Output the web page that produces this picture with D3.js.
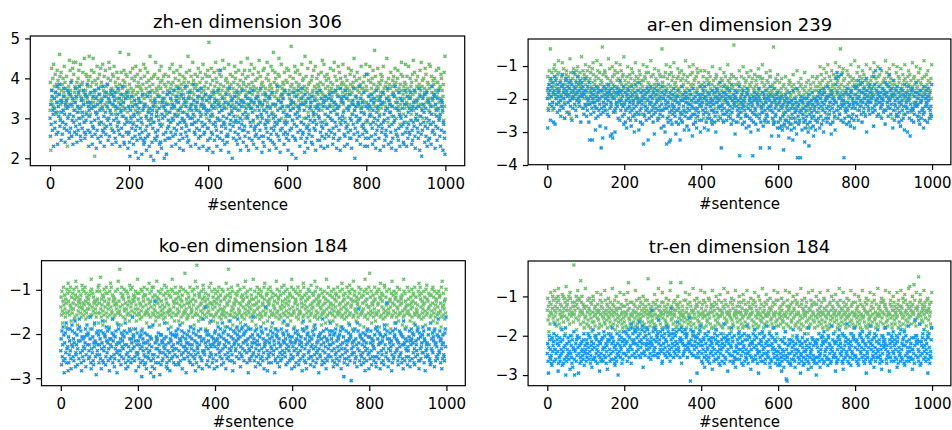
<!DOCTYPE html>
<html>
<head>
<meta charset="utf-8">
<script src="https://cdn.jsdelivr.net/npm/d3@7"></script>
<style>
body { margin: 0; background: #fff; }
svg { display: block; }
text { font-family: "DejaVu Sans", sans-serif; fill: #000; }
</style>
</head>
<body>
<svg id="fig" width="952" height="430"></svg>
<script>
// values, one char per sentence (value = lo + index*step)
var CODE = "0123456789abcdefghijklmnopqrstuvwxyzABCDEFGHIJKLMNOPQRSTUVWXYZ";
function unpack(s, lo, step) {
    return s.replace(/\s/g, "").split("").map(function(c) {
        return +(lo + CODE.indexOf(c) * step).toFixed(3);
    });
}

var xTicks = [0, 200, 400, 600, 800, 1000];

// zh-en dimension 306
var zhTicks = [2, 3, 4, 5];
var zhGreen = unpack(`
qE6vLAtGsN wCrIzoDxKu FpBySHmtJA vDkGqzMxEs BuHr8wnCyP tKAxdFsLvO IqzCuOwlEB rGyKpAxNDm sDEJvtzQkx AIpHwCuFnR
yHoCtKrEwQ uJz3FsADxM pGvBkIyrLC EwsNqAjHzt KxCmuDrGyO vLpFzhBtIA HsMxoEqCwJ zkGuArDTyt JvnBsFxKqE CyIwlHpAzS
rDwJnBuGzL xAkFtHqMyC sIzEovCpKB GuAxjDrNwH tLyBmEsJzq FpCRvxlGAu DkHtzIwOsB qAyGnCuKxE BMsFvjzHrD wIuCp4oAyE
HtzLpBkDvN yEsJrAnGxC uKqCzoFwIB MxDsAlHtyE pGBvjJuCzR EqxKmAsHwD zOtFyBnIrC kDuHwLqAxE JsBzoGvNtA xCrIyEmHpK
BxYuHkDqLz tFnAyJwCsO GrEmzKvBuI yDlHqAxPtC sLwjFzGrBE AuNyCoIxDq vHtBkEzMsG JrAxnDwKyC qFzOuBlIvE DsKAmGyCtQ
zHoDsKwBuN rEyIkCtLAq FwBxGmzJvP tAHunDsEyK CqLzjBxGrO uIwFAlCsDM yBpKtToExJ sGzDwAkIvQ HrCxuNmByE wDAJqzlFsL
EsyKnAwHqC WuDzlGrBxM tJoEAsKyCv DqIwBkzNuF xGmCtRAvHs BzLpDjyEwO uFqHzAnKxC sMwBoGvDyI CrAkEtJzqP yDuNxHlBsF
vIrCnGzAtL EwBxlDsKuO qHzAoFyCrM BsJkxGuDwE zNtDqAmHyC rFwBjLvAsI DyKuzCoEtQ HqxBnFwJAs tCzGlDrMyB sBvEpHuAkN
CuAkIxFsqM yErBnGwKtD zUsHjAvCxL BqEwoDzIrF HtzMyBluCs EwQrAkGxDv tBJsnCyFzH xDrLuEmAwG KszBqjDtIO AvHyoCwErN
DzuHkBsMwA tGxCoErIyP qAJvzlFuCs HwBnDyKtAO rCFmxGsBzL yIuAkEwDqN BtMwjHzCvF sDyGoArKxE zEqLuBnCwI GvApxDlJsR
`, 1.9, 0.05);
var zhBlue = unpack(`
mdtjAxgqo8 rwhkzpeuC9 fsnyDilvbp uekqxBhoat jvgrAmszcf oyhEtdlw9n kqfuBixeap sgzmCjrdbv whpnAtkfcy eloxDugs8q
nfuzkrd9ix hsAlepw7og tcmByjqaud kvrgCfn8xh pezisDlbwm duqjAoy9gt xlfvzcsamr ioBgkwe8tp qhyCdnua9j rwmfzkx7es
fa3kqmxhcs j9onvdg5ti bpl2wreuhc mk4fyqb9sa tcgn6ixdpl e8rzj3moaq hs1kvcufbn pd5gxlr9ja ai7oumwes2 nbqf4tyhcl
ipzckwfr8m tdlAhsoe9v gxnjBuqb7k reyhmpc6wl kuCfsidoan wbgzrm8tjq mjoDvfke9s qhuAxlc7gp dnBtkwi8re sfjyoqv6hb
hq7lwcnxfs oe5jrzbuki vg8dmAtlpc sK6fiqwbnj kr9uhydmae dt5oBjglsv p2wicnrxfk lbuz9qekth cm6vsjAgoa ugidpxr8nw
mf6tczkriv rbpAl9ughd iwe7nsxjcq ugkBod5mta dq8vjyhlpf skcnx6wrbe hozatmg9ik nt7ejCqdvl bl5gruyhsw pe9kAfjnco
ke6sbyngqt vh4ldruzjc ob2ximpfAs rn8gtckwBe ftjq5yaumh ci7wnegrls uaxd9kpohv lg6rjzsbtn qmbAf8widk hsu7vcoxje
jr8nwdgysm pfvlz9hcqu ekAti7roxb sgmc6Bjwvl nupxe8dkAh wi9rfqsycm gcl7otvjBe q2hsxnbkfu ltdCm9wpri uejhzo8gcs
Ifl8rtcxns ojvdyh9qku wmbe7Apgrl sicnv6xtjf huzk8olbeq gdwrBm9vip tpfa7jscyn kxlCg6erud qbhzo8nwmi vreja9ktAf
nt8hxcpjfr ewzlq9gbsk uiAd7mrovh lfcsB6xjne 3qgwtkpyai rdmz8hvbul cpjs9oCfwg kyxe7tiqnb whrAlmdo8v gsuq6kjfc4
`, 1.9, 0.05);

// ar-en dimension 239
var arTicks = [-4, -3, -2, -1];
var arGreen = unpack(`
AHrzDKwFVx FxJBqyELCN yDKwGtAIzP JBxEsFyHCO CwLAumDzGI KzFyCHpBxQ EJmxDAGwLz wBIzFsKCyM HAxEvJCzDR BGyKrwIFAN
DxHzKtBFwM zGAJCuyLEO IwBDFrxHzP yKCGAvJwDN FzEWxIBsCK JAwHyDqGzQ CyLBFxtEwM HDzAIwKpyO xFCJGzBuAN EwKDyHsICR
BuFzqDxHAM yEwCIrvGzL DAJuxBnFwO zHCyEtGvAK wIBoDzFxCN FyAHuGsJzM CwEJzDpxBP HuByAIrzDL xDGwCFmAyK AzIBvHqCVE
EwAHyrCJzN zBGxuDnIwM CyJAFsvHBO xDzEwCqGyL HBuAJzoFxK yGCwDIpAzP FxzBHuEtyM wAIDyCrJBN DuFzGxmHAL BJyEvCsxwK
ysDBuHmzEK CwAtGxpFyJ uEzHBsvkDM AyFtCwrGzI HxuBDznEyL wCGAsFlvxJ zDyHuBqCAN FtwEzGoxBI BvCyHXsAwD xGzuDAkEtK
DtAxHpyBzM vGCwuEsFyJ zBrAHxDmCK yEuGtwBzAI CxFoDvHzsL AwBHyGruEN GzsCxDkAvJ uFyBEwzqHK HxtAzCDlWy wEBuGsyzFI
tAqxEvlzBG ywsCpDiuxH BrzuAtnwDF qExyvCjsAI zDtBpwmxrK uAsEyzkqCG DvxrBtoyAJ wCpzEuhsxF AqytDBnvzH sxEwrAlCuG
AxHuCzpEyM DwIByFrzAL zGvCxJoDwN EyBHuAsFzK wCDzIxmBGO HuAyEFqCxM ByVzDwtJAL FxCGuyrAzK yDIwBEnHxN zAFvCGsyDP
CyFwBJqDzM AxHDuEszGK zBwICyoFAN GuDyExrBzL xFAHwzpCJO DyBvGAtEzM HzCxIunDwK BwEyFAqGzP yDJuCzrHxL EAwGBxmDyN
zFxDBqyJAM CwHuEGszyL AyBDIxoFwN GzvCEyrHAK DxIwBFpzCO yAGuHDtxEM BwCzFJnyAL EuDyGxqBzP HzAwCIsDxK FyBxEAmGwN
`, -3.9, 0.06);
var arBlue = unpack(`
whBqyDtAlG xCsEuzkrAH jyFwtBpDxz uAqEvnCxsI DrzwBmtFyG ApxCuyEoBv sFzDlwrAxJ CtyBqEnvzH wDuAsFxkBy ExrCzoyAtG
sAnwqCvtkE btxozBrbwu ypAusgmCxr vBnzqwtiAo 7rxAcpuCsy qwhBtzoxvD nzArdusyeB cxpwCqfzrt uBszmyAvlF zqvtAnxsCj
otzkqvhyrB wmAsuplxiC qyntvrfzoD lsxpwAuogE uqkzrvtjxA 9ownsyqlzB rvbpAmtxuC xnqwskzoeB tpyruAvlqD mwsoxqhtzC
nqwiyrfvtA 9rmukxsapz blwqjtoyrB spnvekxuqA xjrtmbpvlC okvysqgwnz uxpiwrmtgA qmtynvsdoB jwroxkquhz rnvpyltwfC
sluyqAowhC xprkvtmzgD oymsuwqlAj vqtpzknxfB upAwlrsvyE ms7xqtozkC rzowvylpuB tnxqAsmwjD pvrlytuxeA wkszqnvorC
3pwmuyrjtA svkqxnohzB nyrtivmwqf ulsp3xkovz rqjwnyutgB xmov7ksrpz pitywlqumA ownrkxs7vC ysqdumpxjB kvrnotywhz
kdquhwmsix rgnt6ojvly plwshqukcz ujmrgvotbA mrhwpkuqeB 2snjtlpv2x qvgoumrkwa hlsqnwjtfy 8uokrhvpmz tidnqwsgvl
pvkxtmrzhA wnsjuyqlfB tzpvmwrkxC smxoqujyeA yrkwtpvngD uGqJzmsHwo oxrlItvsyk v2tmqzprjB qunysktxiA zmrwotulhC
rByunCtwlF xqAsDvozkE uzprBwyntG fAxsvqCuoD zuwByrpxiH sDqKtvAnwz yoCuxLrzsm wtBvpAqyjE qxzDusnwCI vrAotyBxhF
qyltvsAnoC wrnzkpuxiB tlvqAmsygD oxsurzfpwC vmydtqAlrB rqkxotzsuE zsntwlypjA uAmvqxrohC plyswuAtkB xvrmzqosnD
`, -3.9, 0.06);

// ko-en dimension 184
var koTicks = [-3, -2, -1];
var koGreen = unpack(`
CHyKAuFMDz IBxGEsLzJO FAKyDMCvHB zJEBLwGxIP DMyHtAFKCE GzIxCNBLEy KDAMFwJzHB xEGBIDrKyQ LyCJAHEtFz BFxDKGzMuN
EKzRBxGDIt AHyLFCvJMz JxDBEGsKyO CMAzIwFHxD GyKEBDuLzP zFAVCyJtMH DIxGLBAwEK KByJDzHFvN yLCEAMxGrI FzHBKDvyJQ
BGzJyEwDLA xKrCHFMIyz IDAuLzGByO EJxFCKsMzH MyBDIAvFxP HzEKGxtCJy AFLyDBwIzN CxJGMEuzKA DIyBAHsLxQ KzFCEvJMyG
yEBJzHvAKD GMxCFIuyLz DATzKBGwEx JyHECMsFzB AKxGDLtIyP FzBXMyCvJH IDxAEKwGzN LBHyFJrCxD zGCIAMuEyO EyKDBHvxFL
CyJEzGuKAH MxDBIFwyLz BKAyGCsHxO zEIDLVvFyJ HyAMCKtBxE DzGxJFrIyN KBzEALuDHy xIFCGMwzBP JyDHKAsEzC FxLBIGvyDQ
GzAKDxtHEM ByJFCLwzIy KxHDEAuMGO yCzIBJvFLD ExGMAKsyHz JDyCFBrIxP zLEAHGwKyC IxBMDFuzJN CyKGEAtLxH DzFJBIvyMQ
yHCLAzsEKG FxJBDMwyIz AKzGECuHxO MyDIBFrJzC GxLAHKvDyN zBEJCIsFxP KyAGMDwzHE IxFCLBtyJz DzHKAEuGxQ BJyFMCvzID
EzKBHyvDLA GxCJFItzMy AHDzKEsBxO LyFICGwJzD BxMAEHuKyN JzCGDLrFxP yIKBAFvHzE DxGMJCtyLz HzAEIBsKxQ FyLDGJwCzM
CTyHAKuEzD IxFBMGvzJy zKDEALsHxO GyJCFIwBzN MxAHDKtyEz BzLFGCrJxP yEIAKDuGzH JxCMBFvyLz DzHGEItAxQ KyBJFCsDzM
AzGKDyvHBE LxCFJIuzMy EHBzADsKxO yIMGCJwFzB DxKEHAtLyN GzFBJCrIxD IyALEMvHzK BxDGFJuyCz KzHIAEsMxP CyJDBFwGzL
`, -3.1, 0.045);
var koBlue = unpack(`
gm9qdjsbo5 kcpfuahri6 naelrgc7jt qidmbkpv8f ejo9hrlcws lfqa6ngdmi bnhkr8eotj opcgjdmxa7 hrfnb9kiul dk4pegqjoa
jemcq7hkvb pagion9dsl fqkbhr6mcj mdipwaloe8 cnhqjf5gkt rbkegm9pdi lohcnqjua7 ejpf8bidrm qgamkcxhon ibdlr6fjpe
fl8cjnhaoq 3ibmgke9pd ak7hodlfcs jgn5bmi8et c3e7Fkahnl mhdpajg4fo 9olbkcfimu hejn8ad7gr kbf6mplcio dgjaohe9nq
hodkra9gmt bljeq7nfic pcigm5khod kfqbjnaseh mj9dprgcl6 eoakihfq8n jdnrclb7gw fmgeCkqi9o qbhlo8djfv ienajcmk7p
iqelb8mhsj ofkdrgn9cu hpamjqei7l lcsfodkhbv rgnieb6mqj akpghldsow mjcqfn8ier dshkobpglt qlfajm5rhc gbnrdikoex
fmbkq8hdrj loaegjn9cs qhdpbmf7ik jCrlcg6oea dkmfqiahnu peglj5bcro hnaqdkm8fi bjrcegplov kfdm9hqjat oigbnlcek7
ncidrg8kpl ahmqefo9bj lgcnki6rdv qebhmaj7so kpfcglnd9i dmjqbho8et riafkcgln5 hoedpjm9bw gqkanfic7r mbldhejqou
jdmgqbk8oh aperfcl9in mgbodqj7hs ekrn3achfl qcjg9lpdmt bon1hekfiq lfarcmdj8u hqBkgbone9 dmjfpalci6 ogkbqhren7
fnckqg9mdj libhodra8s dqmfjcpk7o kgaelnbh9t rjodfEqmc8 hbmkpgil6e aqjcdnofru mghlb9kdqi epfoajcn7v jkbrmhdgl9
igdnqb8ljr mcpkfoah9t dljgqermb7 pbhncikfos fqaml6dgjh kedorjbc9u ahmgpfnlq8 rjbkdiocew ngfqlamh7j cokedbprix
`, -3.1, 0.045);

// tr-en dimension 184
var trTicks = [-3, -2, -1];
var trGreen = unpack(`
BHwDqyFuAK EzmCIxGvBL yDAHtFCwIM GuBzEsxDyJ AIvCHyFpBN DxEGwBIzuK HCyAoFzDvY zFBDxIrEGL CwHyGAuQBF IAzEvDsCxM
ykDuAGwtCH BzsFxEqvAI GvyCtDzoBK xEAwsBuGzJ DtFyCnxAvL uGzBwEsDyH AxCvFtpzBM EyuDAGwrCI zBtxFvCyqK CwEzuAsDxJ
vDyAtGzsEK BPxCwuFzmy FzsBvEAxDL tAGyuCwzrH DwxFzBtvEI yCuAsGDoBz GxRvEzAtCy AvDwyFsBuJ zEtCxGqyDM wByDuAzFsK
xFzBsDwAvH CuyEtAGzpL APwDxzCuFB zyGvBsEtDI ExCAuFzPwy tDBzyGvxrK GAsCwEuyzJ yFvDtBxAoM BuzGxCsDEH DwAyvFtzqL
uCzExAGsyK FyBtDwvzmH zGxAuCEsDL AsDyBFtwrI EzvCxGuyBJ yBtFAzsDpM CxGuEwAvzK DAszyBFxqH wEuCtGzyAL BzxDvAsFnI
DwAzuFCxsJ yGtBvEzAoL BuxFsDyCzH zCwAEtGvrK FyDuBxszAI tzGCwyEvpM AxsDBuFzyJ EvyGtAzCqH CwBxuDsFzL zyEAvGtwnK
GtzCxAuDyH BwEvsFzyqL yAuDGxtBCK DzsEvwAFoI xCBytGuzEJ FvAzsDwyrM uEGxCtBzAH zyDvFsAwpK CtxBuGyDEL AwzFvsEymI
ExBtzGvCAK yDuFwAsznH CGvyBtxDrL zAsEuFwyBI tDxCGzvAqJ BywFsEuzDM AGtxCvyBoK FzuDwAsEyH xCByGtzvpL DwEAuFsyzJ
zFtBxCvDyI AuGwsEzyrL DxyCvBFtAH EsAzGuwxqK ByDtFvzCnJ GwxAsEuyzM tCzDyBvFoH xAFuGzsDEL CvBywtAzpK zEGxDusByI
BFwDuAzxCK yEsGBvDtAL DzCxHuFyrJ AGwBtEzvDM xCNFyBuDAI EAzOvGwCtK CxBDySzFuJ GyAwECvBDL zDFxBtAGqH BwCEyAuFsK
`, -3.2, 0.05);
var trBlue = unpack(`
fkb5iomdhc ea9ngjlpbh uhcfomkg6a jdnbelhfr9 mgaicojs4d bkhenfclg7 ofjdam8ihq c4ghkbmeon i5fnjadkbg lhecmp9gjf
hbmdkfpioc gnaejl8hcr kcidonbfmh ajgepl6dkb fmcnhbiqeo idkagj7mlp emhbofcnks nglcia9jdh bpfk4emgoj dihnalcfqm
jmfqkeplbh ogrdnijsau heplkmfqrd qkgnsjhoev lpdimfrkt8 fngqeokjhs mrhkdpiflc nkBjeqgmhs ierlofnpdw kfmhqjgoab
rhknfpiemt ldgsqjofhb eCmipknrdg pjfolhqekv higrmdnlsa mqkefjgprh jnopdikhlx gk1rmfjqeo qehjlondi5 nfkpdgrmjt
lbfjahnmd8 pgkecoihbq dmajfnlgk7 ienbhpcmfr kcogldajh9 fphmbkienu ajdnclgom6 hmkfpbejis nelabgodc8 gjicmfkphq
cnhkeaolg9 ijpbmfdhct mfaogjnek7 hdlkbpcimr oecjnhafg5 kpgdmbljeq bhnfioackt flejgdmpa8 jcobkhnifs dmhalgpec9
gcjai9fmd6 bhleg8nckq e2h1dbjfma kfa9mcgilr cjeb8hkfno hmdgaclj5e fbkni9dgap lgchjemb7s aidkfg8hnc mejbcalkd4
kaimdgpbe8 fhnjcolkaq beglhmdic9 onckfjahbt igmdpelfk6 dlabhncjor mfkiegbpa7 hcojdlnfgu ebmkaihdl9 jpgfcnomes
iedlbmhak9 cjopgfnidq lmbheakcj5 ogfdnilpbt akhcmjegd8 npibfoldhr gdkmaechj7 bfonlijmks hcajegpdf6 mkdibonlgq
fbjmdhkoc8 lnagiepfbr dhkcmjnaq9 jeoblfigdt bmgidkcnh7 hcfnajwoel okmdhbglu9 ealjfnpicr gjdmbhkfo5 ncpiaegdms
`, -3.2, 0.05);

var green = "#6fc171", blue = "#1898ea";

var panels = [
    {title: "zh-en dimension 306", g: zhGreen, b: zhBlue, ticks: zhTicks, ydom: [1.815, 5.06], x0: 30.3, x1: 464.7, y0: 36, y1: 165.7, lab: 44},
    {title: "ar-en dimension 239", g: arGreen, b: arBlue, ticks: arTicks, ydom: [-3.99, -0.18], x0: 528.1, x1: 950.9, y0: 39, y1: 164.7, lab: 44},
    {title: "ko-en dimension 184", g: koGreen, b: koBlue, ticks: koTicks, ydom: [-3.17, -0.34], x0: 41.5, x1: 465.3, y0: 260.7, y1: 385.7, lab: 41.5},
    {title: "tr-en dimension 184", g: trGreen, b: trBlue, ticks: trTicks, ydom: [-3.27, -0.10], x0: 528.1, x1: 950.9, y0: 261, y1: 385.7, lab: 41.5}
];

var svg = d3.select("#fig");
var cross = "M-1.5,-1.5L1.5,1.5M-1.5,1.5L1.5,-1.5";
var fmt = function(d) { return d < 0 ? "\u2212" + Math.abs(d) : "" + d; };

panels.forEach(function(p) {
    var x = d3.scaleLinear().domain([-49.95, 1048.95]).range([p.x0, p.x1]);
    var y = d3.scaleLinear().domain(p.ydom).range([p.y1, p.y0]);
    var g = svg.append("g");

    [[p.g, green], [p.b, blue]].forEach(function(s) {
        g.append("g").selectAll("path")
            .data(s[0])
            .enter().append("path")
            .attr("d", cross)
            .attr("transform", function(d, i) { return "translate(" + x(i) + "," + y(d) + ")"; })
            .style("stroke", s[1])
            .style("stroke-width", 1.5)
            .style("fill", "none");
    });

    var xa = g.append("g")
        .attr("transform", "translate(0," + p.y1 + ")")
        .call(d3.axisBottom(x).tickValues(xTicks).tickFormat(function(d) { return "" + d; })
            .tickSize(5.25).tickPadding(7.9).tickSizeOuter(0));
    var ya = g.append("g")
        .attr("transform", "translate(" + p.x0 + ",0)")
        .call(d3.axisLeft(y).tickValues(p.ticks).tickFormat(fmt).tickSize(5.25).tickPadding(5).tickSizeOuter(0));
    [xa, ya].forEach(function(a) {
        a.select(".domain").remove();
        a.selectAll("line").style("stroke", "#000").style("stroke-width", 1.2);
        a.selectAll("text").style("font-size", "15px").style("font-family", "DejaVu Sans").style("fill", "#000");
    });

    g.append("rect")
        .attr("x", p.x0).attr("y", p.y0)
        .attr("width", p.x1 - p.x0).attr("height", p.y1 - p.y0)
        .style("fill", "none").style("stroke", "#000").style("stroke-width", 1.2);

    g.append("text")
        .attr("x", (p.x0 + p.x1) / 2).attr("y", p.y0 - 8.5)
        .attr("text-anchor", "middle")
        .style("font-size", "18px")
        .text(p.title);

    g.append("text")
        .attr("x", (p.x0 + p.x1) / 2).attr("y", p.y1 + p.lab)
        .attr("text-anchor", "middle")
        .style("font-size", "15px")
        .text("#sentence");
});
</script>
</body>
</html>
